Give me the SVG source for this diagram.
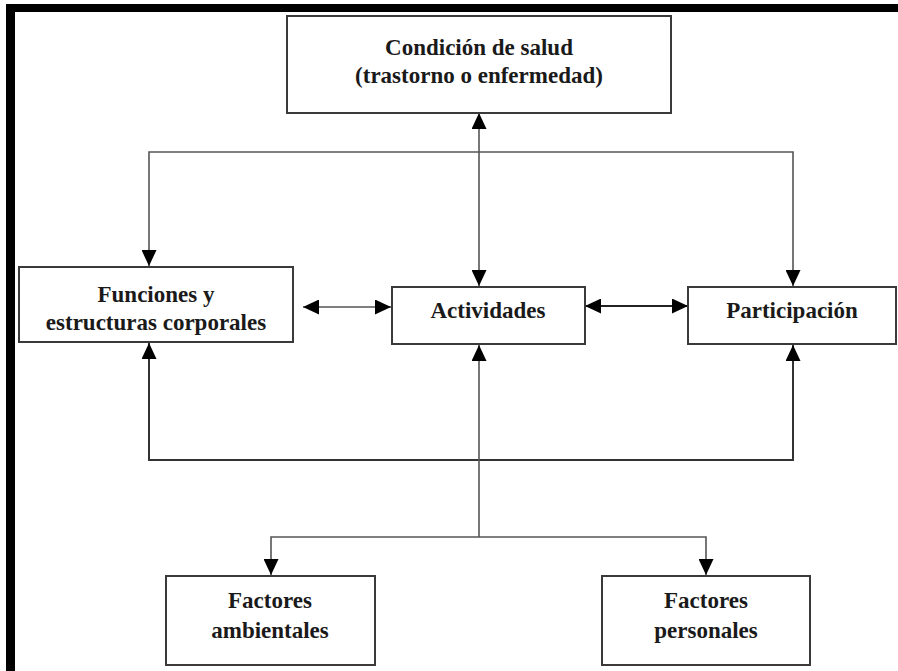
<svg xmlns="http://www.w3.org/2000/svg" width="898" height="671" viewBox="0 0 898 671">
  <defs>
    <marker id="arr" markerUnits="userSpaceOnUse" markerWidth="17" markerHeight="15" refX="16" refY="7.5" orient="auto-start-reverse">
      <path d="M0,0 L16,7.5 L0,15 z" fill="#000"/>
    </marker>
    <style>
      .box { fill: #fff; stroke: #3a3a3a; stroke-width: 2; }
      .lbl { font-family: "Liberation Serif", "Times New Roman", serif; font-weight: bold; font-size: 23px; fill: #1a1a1a; text-anchor: middle; }
      .con { fill: none; stroke: #555; stroke-width: 1.6; }
      .bi { marker-start: url(#arr); marker-end: url(#arr); }
      .one { marker-end: url(#arr); }
    </style>
  </defs>
  <rect x="0" y="0" width="898" height="671" fill="#fff"/>
  <!-- frame -->
  <rect x="6" y="4" width="892" height="8" fill="#000"/>
  <rect x="6" y="4" width="9" height="667" fill="#000"/>

  <g id="connectors">
    <line class="con bi" x1="479" y1="113" x2="479" y2="286"/>
    <path class="con bi" d="M149,266 V152 H793 V286"/>
    <path class="con bi" d="M149,343 V460 H793 V345" style="stroke:#333;stroke-width:2"/>
    <line class="con bi" x1="303" y1="307" x2="391" y2="307"/>
    <line class="con bi" x1="585" y1="306" x2="688" y2="306" style="stroke:#222;stroke-width:2"/>
    <line class="con one" x1="479" y1="537" x2="479" y2="345"/>
    <path class="con bi" d="M271,575 V537 H706 V575"/>
  </g>

  <g id="condicion">
    <rect class="box" x="287" y="16" width="384" height="97"/>
    <text class="lbl" x="479" y="55">Condición de salud</text>
    <text class="lbl" x="479" y="83">(trastorno o enfermedad)</text>
  </g>
  <g id="funciones">
    <rect class="box" x="19" y="267" width="274" height="75"/>
    <text class="lbl" x="156" y="302">Funciones y</text>
    <text class="lbl" x="156" y="330">estructuras corporales</text>
  </g>
  <g id="actividades">
    <rect class="box" x="392" y="287" width="193" height="57"/>
    <text class="lbl" x="488" y="318">Actividades</text>
  </g>
  <g id="participacion">
    <rect class="box" x="688" y="287" width="208" height="57"/>
    <text class="lbl" x="792" y="318">Participación</text>
  </g>
  <g id="ambientales">
    <rect class="box" x="166" y="576" width="209" height="89"/>
    <text class="lbl" x="270" y="608">Factores</text>
    <text class="lbl" x="270" y="638">ambientales</text>
  </g>
  <g id="personales">
    <rect class="box" x="602" y="576" width="208" height="89"/>
    <text class="lbl" x="706" y="608">Factores</text>
    <text class="lbl" x="706" y="638">personales</text>
  </g>
</svg>
